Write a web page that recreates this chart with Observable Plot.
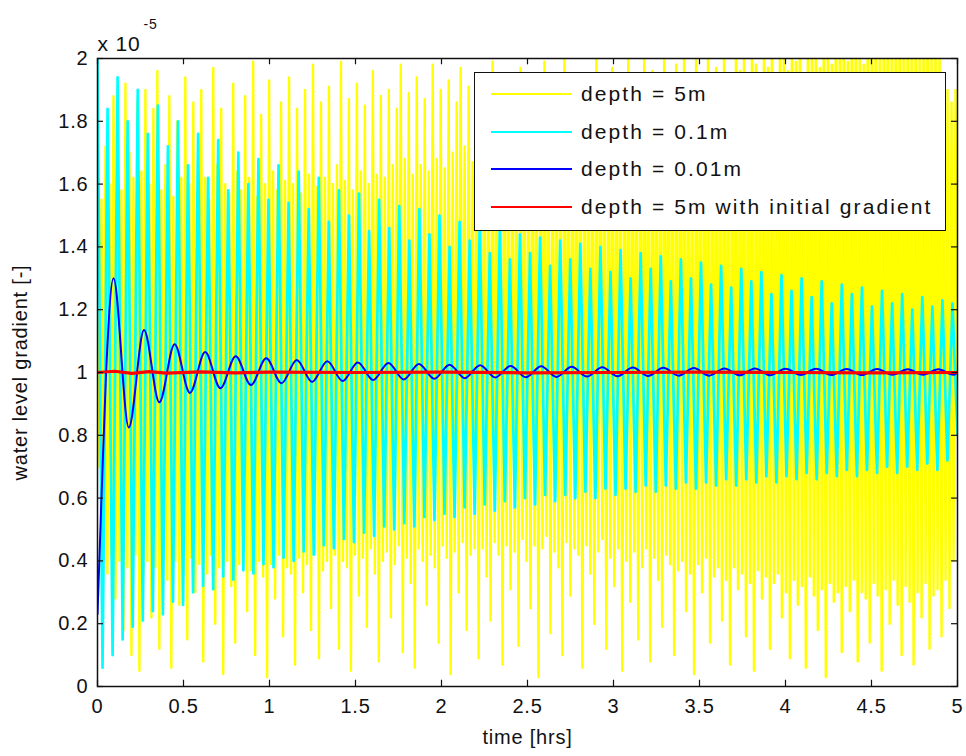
<!DOCTYPE html>
<html>
<head>
<meta charset="utf-8">
<script src="https://cdn.jsdelivr.net/npm/d3@7"></script>
<script src="https://cdn.jsdelivr.net/npm/@observablehq/plot@0.6"></script>
<style>
  html, body { margin: 0; padding: 0; background: #fff; }
  #wrap { position: relative; width: 966px; height: 756px; }
  #legend {
    position: absolute; left: 474px; top: 72px; width: 470px; height: 157px;
    background: #fff; border: 1.5px solid #111; box-sizing: content-box;
    font-family: "Liberation Sans", Arial, sans-serif; font-size: 21px; color: #111;
    letter-spacing: 2.1px;
  }
  .row { position: absolute; left: 0; height: 30px; display: flex; align-items: center; white-space: nowrap; }
  .sw { width: 81px; height: 2px; margin-left: 16px; margin-right: 9px; }
</style>
</head>
<body>
<div id="wrap"></div>
<script>
// ---- data (units of 1e-5) ----
const xTicks = [0, 0.5, 1, 1.5, 2, 2.5, 3, 3.5, 4, 4.5, 5];
const yTicks = [0, 0.2, 0.4, 0.6, 0.8, 1, 1.2, 1.4, 1.6, 1.8, 2];
const seriesNames = ["depth = 5m", "depth = 0.1m", "depth = 0.01m", "depth = 5m with initial gradient"];
const seriesColors = ["#ffff00", "#00ffff", "#0000ff", "#ff0000"];

// depth = 5m : successive maxima / minima of the fast oscillation
const yellowHigh = [
  1.20, 1.55, 1.72, 1.60, 1.88, 1.66, 1.58, 1.92, 1.70, 1.62, 1.86, 1.64,
  1.90, 1.60, 1.84, 1.96, 1.58, 1.66, 1.88, 1.56, 1.80, 1.62, 1.94, 1.60,
  1.86, 1.58, 1.90, 1.62, 1.55, 1.97, 1.66, 1.84, 1.60, 1.57, 1.92, 1.64,
  1.58, 1.88, 1.62, 1.99, 1.56, 1.82, 1.60, 1.93, 1.64, 1.58, 1.86, 1.61,
  1.94, 1.60, 1.84, 1.57, 1.90, 1.63, 1.98, 1.59, 1.86, 1.62, 1.91, 1.60,
  1.66, 1.99, 1.61, 1.87, 1.58, 1.92, 1.64, 1.85, 1.60, 1.96, 1.63, 1.88,
  1.62, 1.90, 1.66, 1.84, 1.98, 1.68, 1.89, 1.63, 1.94, 1.66, 1.87, 1.64,
  1.98, 1.68, 1.90, 1.65, 1.93, 1.70, 1.86, 1.97, 1.72, 1.91, 1.67, 1.95,
  1.70, 1.92, 1.68, 1.99, 1.74, 1.88, 1.95, 1.72, 1.90, 1.69, 1.97, 1.76,
  1.74, 1.94, 1.78, 1.89, 1.99, 1.80, 1.76, 1.93, 1.74, 2.01, 1.79, 1.92,
  1.80, 1.95, 1.78, 1.88, 1.82, 2.02, 1.79, 1.90, 1.84, 1.97, 1.81, 1.92,
  1.86, 2.00, 1.84, 1.93, 1.88, 2.04, 1.85, 1.96, 1.90, 1.87, 2.03, 1.91,
  1.89, 1.98, 1.86, 2.05, 1.92, 1.88, 2.00, 1.94, 1.89, 2.06, 1.93, 1.97,
  1.92, 2.04, 1.95, 1.90, 2.08, 1.96, 2.01, 1.93, 2.06, 1.98, 1.94, 2.03,
  1.97, 2.07, 1.94, 2.02, 2.10, 1.96, 2.04, 1.99, 2.09, 1.95, 2.05, 2.00,
  2.06, 1.97, 2.12, 2.01, 1.98, 2.08, 2.03, 2.14, 1.99, 2.05, 2.10, 2.02,
  1.98, 2.11, 2.04, 2.16, 2.00, 2.07, 2.13, 2.02, 2.09, 2.18, 2.03, 2.12,
  2.06, 2.15, 2.02, 2.10, 2.20, 2.05, 2.14, 2.08, 1.95, 1.90, 1.86, 1.90
];
const yellowLow = [
  0.70, 0.45, 0.36, 0.42, 0.28, 0.40, 0.18, 0.38, 0.10, 0.42, 0.05, 0.36,
  0.40, 0.22, 0.38, 0.12, 0.42, 0.34, 0.06, 0.40, 0.26, 0.37, 0.15, 0.41,
  0.30, 0.39, 0.08, 0.36, 0.42, 0.20, 0.38, 0.04, 0.40, 0.32, 0.14, 0.39,
  0.41, 0.24, 0.37, 0.10, 0.40, 0.35, 0.03, 0.39, 0.28, 0.42, 0.16, 0.38,
  0.36, 0.07, 0.41, 0.30, 0.39, 0.18, 0.43, 0.09, 0.37, 0.40, 0.25, 0.42,
  0.12, 0.40, 0.38, 0.05, 0.42, 0.29, 0.41, 0.19, 0.44, 0.36, 0.08, 0.40,
  0.43, 0.22, 0.39, 0.45, 0.11, 0.41, 0.33, 0.06, 0.44, 0.40, 0.26, 0.42,
  0.38, 0.14, 0.45, 0.41, 0.04, 0.43, 0.30, 0.46, 0.18, 0.42, 0.44, 0.09,
  0.44, 0.35, 0.21, 0.46, 0.42, 0.07, 0.45, 0.31, 0.43, 0.13, 0.47, 0.40,
  0.25, 0.45, 0.03, 0.44, 0.48, 0.17, 0.43, 0.38, 0.10, 0.46, 0.29, 0.44,
  0.42, 0.06, 0.45, 0.36, 0.20, 0.43, 0.47, 0.12, 0.41, 0.32, 0.44, 0.05,
  0.40, 0.27, 0.43, 0.15, 0.38, 0.44, 0.08, 0.41, 0.34, 0.19, 0.42, 0.39,
  0.10, 0.37, 0.40, 0.24, 0.36, 0.04, 0.39, 0.30, 0.41, 0.14, 0.35, 0.38,
  0.21, 0.34, 0.07, 0.38, 0.31, 0.36, 0.16, 0.33, 0.05, 0.37, 0.28, 0.35,
  0.12, 0.33, 0.36, 0.22, 0.30, 0.09, 0.34, 0.26, 0.32, 0.06, 0.35, 0.29,
  0.18, 0.31, 0.03, 0.33, 0.27, 0.30, 0.11, 0.32, 0.24, 0.34, 0.08, 0.30,
  0.28, 0.14, 0.33, 0.29, 0.05, 0.31, 0.20, 0.34, 0.26, 0.10, 0.32, 0.27,
  0.07, 0.30, 0.22, 0.33, 0.12, 0.29, 0.31, 0.16, 0.34, 0.25, 0.40, 0.80
];

// depth = 0.1m : maxima / minima of each cycle
const cyanHigh = [
  2.00, 1.84, 1.94, 1.80, 1.90, 1.76, 1.85, 1.72, 1.80, 1.66,
  1.76, 1.62, 1.74, 1.58, 1.70, 1.60, 1.68, 1.55, 1.66, 1.54,
  1.64, 1.52, 1.62, 1.48, 1.58, 1.50, 1.57, 1.45, 1.55, 1.46,
  1.53, 1.42, 1.52, 1.44, 1.50, 1.40, 1.48, 1.42, 1.47, 1.38,
  1.46, 1.36, 1.44, 1.38, 1.43, 1.34, 1.42, 1.36, 1.41, 1.33,
  1.40, 1.32, 1.39, 1.30, 1.38, 1.33, 1.37, 1.29, 1.36, 1.30,
  1.35, 1.28, 1.34, 1.27, 1.33, 1.29, 1.32, 1.25, 1.31, 1.26,
  1.30, 1.24, 1.29, 1.22, 1.28, 1.25, 1.27, 1.21, 1.26, 1.22,
  1.25, 1.20, 1.24, 1.21, 1.23, 1.22
];
const cyanLow = [
  0.06, 0.10, 0.15, 0.19, 0.21, 0.24, 0.23, 0.27, 0.26, 0.30,
  0.32, 0.31, 0.35, 0.34, 0.37, 0.36, 0.39, 0.38, 0.41, 0.40,
  0.43, 0.42, 0.45, 0.44, 0.47, 0.46, 0.49, 0.48, 0.51, 0.50,
  0.52, 0.51, 0.54, 0.53, 0.55, 0.54, 0.57, 0.55, 0.58, 0.56,
  0.59, 0.57, 0.60, 0.58, 0.61, 0.59, 0.61, 0.60, 0.62, 0.60,
  0.63, 0.61, 0.63, 0.62, 0.64, 0.62, 0.64, 0.63, 0.65, 0.63,
  0.65, 0.64, 0.66, 0.64, 0.66, 0.65, 0.67, 0.65, 0.67, 0.66,
  0.68, 0.66, 0.68, 0.67, 0.69, 0.67, 0.69, 0.68, 0.70, 0.68,
  0.70, 0.69, 0.71, 0.69, 0.72, 0.80
];

// depth = 0.01m : initial rise, then successive extrema (every half period)
const blueLeadTime = [0, 0.02, 0.05];
const blueLeadValue = [0.23, 0.55, 1.00];
const blueFirstPeakTime = 0.093;
const blueHalfPeriod = 0.0888;
const blueExtrema = [
  1.300, 0.825, 1.135, 0.905, 1.090, 0.935, 1.065, 0.950, 1.052, 0.960,
  1.045, 0.966, 1.040, 0.970, 1.036, 0.973, 1.032, 0.976, 1.030, 0.978,
  1.027, 0.980, 1.025, 0.982, 1.023, 0.984, 1.021, 0.985, 1.020, 0.986,
  1.018, 0.987, 1.017, 0.988, 1.016, 0.989, 1.015, 0.990, 1.014, 0.990,
  1.013, 0.991, 1.013, 0.991, 1.012, 0.992, 1.012, 0.992, 1.011, 0.992,
  1.011, 0.993, 1.010, 0.993, 1.010, 0.993
];

// depth = 5m with initial gradient : practically constant
const redTime  = [0, 0.1, 0.2, 0.3, 0.4, 0.6, 0.8, 1.0, 1.5, 2.0, 2.5, 3.0, 3.5, 4.0, 4.5, 5.0];
const redValue = [1.000, 1.004, 0.997, 1.003, 0.998, 1.002, 0.999, 1.001, 1.000, 1.001, 0.999, 1.000, 1.001, 1.000, 0.999, 1.000];

// ---- build tables ----
function interleave(high, low) {
  const out = [];
  const n = Math.min(high.length, low.length);
  const dt = 5 / (2 * n - 1);
  for (let i = 0; i < n; i++) {
    out.push({t: 2 * i * dt, v: high[i]});
    out.push({t: (2 * i + 1) * dt, v: low[i]});
  }
  return out;
}
const yellowData = interleave(yellowHigh, yellowLow);
const cyanData = interleave(cyanHigh, cyanLow);
const blueData = blueLeadTime.map((t, i) => ({t, v: blueLeadValue[i]}));
blueExtrema.forEach((v, i) => blueData.push({t: blueFirstPeakTime + i * blueHalfPeriod, v}));
blueData.push({t: 5, v: 1.0});
const redData = redTime.map((t, i) => ({t, v: redValue[i]}));

const tickLenY = 0.02;   // in y units (~6px)
const tickLenX = 0.035;  // in x units (~6px)
const fmt = d => String(d);

const chart = Plot.plot({
  width: 966,
  height: 756,
  marginLeft: 97,
  marginRight: 9,
  marginTop: 58,
  marginBottom: 70,
  style: {fontFamily: "'Liberation Sans', Arial, sans-serif", fontSize: "20px", color: "#111", background: "#fff", overflow: "visible", letterSpacing: "0.8px"},
  x: {domain: [0, 5], ticks: xTicks},
  y: {domain: [0, 2], ticks: yTicks},
  marks: [
    Plot.line(yellowData, {x: "t", y: "v", stroke: seriesColors[0], strokeWidth: 2.4, clip: true}),
    Plot.line(cyanData, {x: "t", y: "v", stroke: seriesColors[1], strokeWidth: 2.7, clip: true}),
    Plot.line(blueData, {x: "t", y: "v", stroke: seriesColors[2], strokeWidth: 2, curve: "monotone-x", clip: true}),
    Plot.line(redData, {x: "t", y: "v", stroke: seriesColors[3], strokeWidth: 3.2, clip: true}),
    // inward ticks
    Plot.ruleX(xTicks, {x: d => d, y1: 0, y2: tickLenY, stroke: "#111", strokeWidth: 1.2}),
    Plot.ruleX(xTicks, {x: d => d, y1: 2, y2: 2 - tickLenY, stroke: "#111", strokeWidth: 1.2}),
    Plot.ruleY(yTicks, {y: d => d, x1: 0, x2: tickLenX, stroke: "#111", strokeWidth: 1.2}),
    Plot.ruleY(yTicks, {y: d => d, x1: 5, x2: 5 - tickLenX, stroke: "#111", strokeWidth: 1.2}),
    Plot.frame({stroke: "#111", strokeWidth: 1.5}),
    Plot.axisX({ticks: xTicks, tickSize: 0, tickPadding: 12, tickFormat: fmt, label: null, fontSize: 20}),
    Plot.axisY({ticks: yTicks, tickSize: 0, tickPadding: 9, tickFormat: fmt, label: null, fontSize: 20}),
    Plot.text(["time [hrs]"], {frameAnchor: "bottom", textAnchor: "middle", dy: 57, fontSize: 20, fill: "#111"}),
    Plot.text(["water level gradient [-]"], {frameAnchor: "left", textAnchor: "middle", dx: -77, rotate: -90, fontSize: 20, fill: "#111"}),
    Plot.text(["x 10"], {frameAnchor: "top-left", textAnchor: "start", dx: 0, dy: -22, fontSize: 21, fill: "#111"}),
    Plot.text(["-5"], {frameAnchor: "top-left", textAnchor: "start", dx: 46, dy: -39, fontSize: 14, fill: "#111"})
  ]
});

const wrap = document.getElementById("wrap");
wrap.appendChild(chart);

const legend = document.createElement("div");
legend.id = "legend";
const rowTops = [6, 44, 81, 119];
seriesNames.forEach((name, i) => {
  const row = document.createElement("div");
  row.className = "row";
  row.style.top = rowTops[i] + "px";
  const sw = document.createElement("div");
  sw.className = "sw";
  sw.style.background = seriesColors[i];
  const label = document.createElement("span");
  label.textContent = name;
  row.appendChild(sw);
  row.appendChild(label);
  legend.appendChild(row);
});
wrap.appendChild(legend);
</script>
</body>
</html>
